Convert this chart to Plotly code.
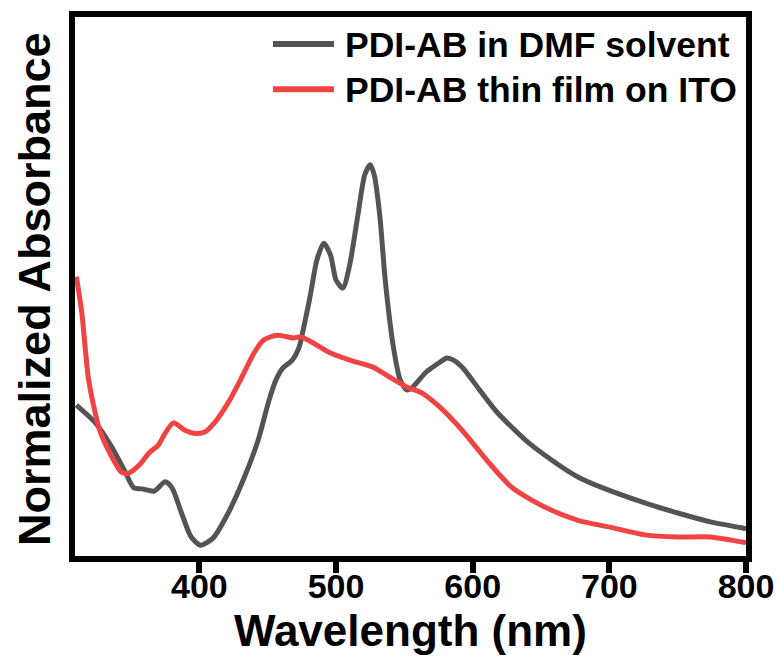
import plotly.graph_objects as go

# Black curve: PDI-AB in DMF solvent
dmf_wl = [310, 324, 336, 345, 352, 358, 367, 375, 380, 387, 394, 401, 410, 421, 433, 443,
          451, 456, 461, 468, 473, 476, 481, 486, 491, 496, 500, 505, 510, 516, 521, 525,
          528, 532, 536, 542, 547, 552, 556, 566, 576, 581, 586, 593, 605, 617, 641, 677, 726,
          774, 797, 800]
dmf_abs = [0.281, 0.248, 0.203, 0.161, 0.128, 0.126, 0.122, 0.139, 0.128, 0.081, 0.037,
           0.022, 0.035, 0.081, 0.148, 0.216, 0.290, 0.327, 0.349, 0.364, 0.388, 0.420,
           0.481, 0.549, 0.580, 0.558, 0.512, 0.497, 0.540, 0.632, 0.706, 0.725, 0.706,
           0.632, 0.512, 0.388, 0.327, 0.309, 0.314, 0.342, 0.360, 0.368, 0.364, 0.349, 0.309,
           0.270, 0.211, 0.148, 0.100, 0.065, 0.054, 0.052]

# Red curve: PDI-AB thin film on ITO
film_wl = [310, 314, 319, 327, 336, 343, 348, 356, 363, 370, 375, 381, 389, 396, 404, 411,
           421, 430, 440, 447, 457, 469, 474, 483, 496, 510, 527, 537, 552, 563, 576, 592,
           612, 629, 653, 677, 701, 726, 750, 774, 797, 800]
film_abs = [0.518, 0.451, 0.327, 0.235, 0.185, 0.157, 0.155, 0.170, 0.192, 0.207, 0.229,
            0.248, 0.235, 0.229, 0.231, 0.248, 0.285, 0.327, 0.377, 0.401, 0.410, 0.405,
            0.407, 0.396, 0.377, 0.364, 0.351, 0.336, 0.314, 0.303, 0.277, 0.235, 0.174,
            0.128, 0.092, 0.068, 0.055, 0.041, 0.037, 0.037, 0.028, 0.027]

series_names = ["PDI-AB in DMF solvent", "PDI-AB thin film on ITO"]
series_colors = ["#545454", "#F04444"]
x_ticks = [400, 500, 600, 700, 800]
x_title = "Wavelength (nm)"
y_title = "Normalized Absorbance"

FONT = "Liberation Sans, Arial, sans-serif"

fig = go.Figure()
fig.add_trace(go.Scatter(x=dmf_wl, y=dmf_abs, mode="lines", name=series_names[0],
                         line=dict(color=series_colors[0], width=5, shape="spline", smoothing=0.7),
                         showlegend=False))
fig.add_trace(go.Scatter(x=film_wl, y=film_abs, mode="lines", name=series_names[1],
                         line=dict(color=series_colors[1], width=5, shape="spline", smoothing=0.7),
                         showlegend=False))

# manual legend
leg_y = [0.948, 0.864]
for i in range(2):
    fig.add_shape(type="line", xref="paper", yref="paper", x0=0.295, x1=0.386,
                  y0=leg_y[i] + 0.002, y1=leg_y[i] + 0.002,
                  line=dict(color=series_colors[i], width=6))
    fig.add_annotation(xref="paper", yref="paper", x=0.399, y=leg_y[i], xanchor="left",
                       yanchor="middle", showarrow=False, text="<b>%s</b>" % series_names[i],
                       font=dict(family=FONT, size=35.5, color="black"))

# axis titles
fig.add_annotation(xref="paper", yref="paper", x=0.5, y=-0.1373, xanchor="center",
                   yanchor="middle", showarrow=False, text="<b>%s</b>" % x_title,
                   font=dict(family=FONT, size=44, color="black"))
fig.add_annotation(xref="paper", yref="paper", x=-0.0615, y=0.495, xanchor="center",
                   yanchor="middle", showarrow=False, text="<b>%s</b>" % y_title,
                   textangle=-90, font=dict(family=FONT, size=45, color="black"))

fig.update_layout(
    width=779, height=657,
    margin=dict(l=75, r=33, t=17, b=101),
    paper_bgcolor="white", plot_bgcolor="white",
    font=dict(family=FONT, color="black"),
    showlegend=False,
)
fig.update_xaxes(
    range=[309, 800], tickvals=x_ticks, ticktext=["<b>%d</b>" % v for v in x_ticks],
    ticks="outside", ticklen=11, tickwidth=6, tickcolor="black",
    tickfont=dict(family=FONT, size=34, color="black"), ticklabelstandoff=-16,
    showline=True, linewidth=6, linecolor="black", mirror=True,
    showgrid=False, zeroline=False, automargin=False,
)
fig.update_yaxes(
    range=[0.002, 0.998], showticklabels=False, ticks="",
    showline=True, linewidth=6, linecolor="black", mirror=True,
    showgrid=False, zeroline=False, automargin=False,
)

fig.write_html("out.html")
